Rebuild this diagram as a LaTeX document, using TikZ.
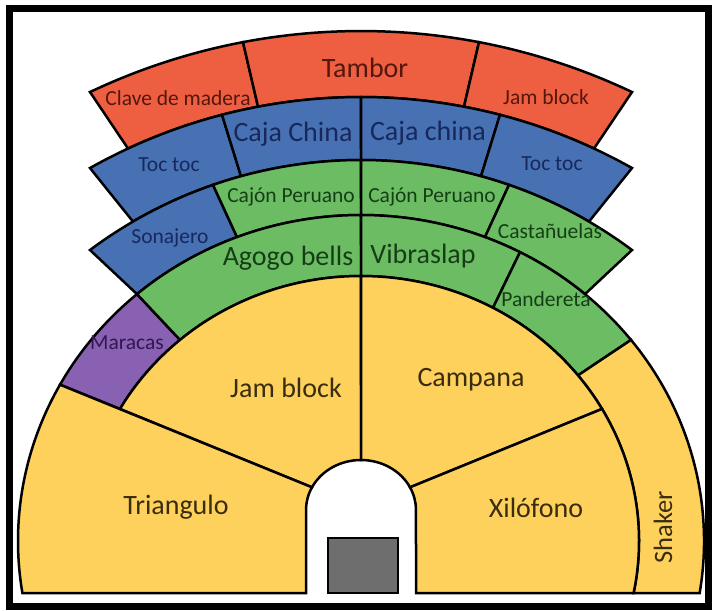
\documentclass[tikz,border=0pt]{standalone}
\usepackage{fontspec}
\setmainfont{Carlito}
\usepackage{tikz}

\definecolor{redseat}{RGB}{238,95,65}
\definecolor{blueseat}{RGB}{72,113,180}
\definecolor{greenseat}{RGB}{108,188,100}
\definecolor{yellowseat}{RGB}{254,209,92}
\definecolor{purpleseat}{RGB}{137,97,178}
\definecolor{stagegray}{RGB}{110,110,110}
\definecolor{redtxt}{RGB}{85,22,12}
\definecolor{bluetxt}{RGB}{22,40,92}
\definecolor{greentxt}{RGB}{22,62,22}
\definecolor{yellowtxt}{RGB}{58,44,14}
\definecolor{purpletxt}{RGB}{50,22,82}

% arcs of the tiers: name, centre y, x radius, y radius (centre x is 361)
\newcommand{\arcdef}[4]{%
  \expandafter\def\csname cy#1\endcsname{#2}%
  \expandafter\def\csname ra#1\endcsname{#3}%
  \expandafter\def\csname rb#1\endcsname{#4}}

% one seat block: style, outer arc, x from, x to, inner arc, x from, x to
\newcommand{\seat}[7]{%
  \edef\sOc{\csname cy#2\endcsname}\edef\sOa{\csname ra#2\endcsname}\edef\sOb{\csname rb#2\endcsname}%
  \edef\sIc{\csname cy#5\endcsname}\edef\sIa{\csname ra#5\endcsname}\edef\sIb{\csname rb#5\endcsname}%
  \pgfmathsetmacro{\sAs}{-acos((#3-361)/\sOa)}%
  \pgfmathsetmacro{\sAe}{-acos((#4-361)/\sOa)}%
  \pgfmathsetmacro{\sBs}{-acos((#6-361)/\sIa)}%
  \pgfmathsetmacro{\sBe}{-acos((#7-361)/\sIa)}%
  \pgfmathsetmacro{\sYa}{\sOc+\sOb*sin(\sAs)}%
  \pgfmathsetmacro{\sYb}{\sIc+\sIb*sin(\sBs)}%
  \filldraw[#1] (#3,\sYa) arc[start angle=\sAs, end angle=\sAe, x radius=\sOa, y radius=\sOb]
    -- (#6,\sYb) arc[start angle=\sBs, end angle=\sBe, x radius=\sIa, y radius=\sIb] -- cycle;}

\arcdef{R0}{663.5}{632.5}{632.5}
\arcdef{R1}{649.7}{552.7}{552.7}
\arcdef{R2}{613}{453}{453}
\arcdef{R3}{541}{343}{326}
\arcdef{R4}{541}{278}{265}
\arcdef{Ar}{510}{55}{50}

\begin{document}
\begin{tikzpicture}[
        x=1pt, y=-1pt,
        block/.style={draw=black, line width=2.5},
        red/.style={block, fill=redseat},
        blue/.style={block, fill=blueseat},
        green/.style={block, fill=greenseat},
        yellow/.style={block, fill=yellowseat},
        purple/.style={block, fill=purpleseat},
        small/.style={font=\fontsize{21.5}{24}\selectfont, inner sep=0pt},
        big/.style={font=\fontsize{28}{32}\selectfont, inner sep=0pt}
        ]
    \useasboundingbox (0,0) rectangle (713,611);

    % --- top tier (red) ---
        \seat{red}{R0}{90}{243}{R1}{258}{128}
        \seat{red}{R0}{243}{479}{R1}{464}{258}
        \seat{red}{R0}{479}{632}{R1}{594}{464}

    % --- second tier (blue) ---
        \seat{blue}{R1}{90}{222}{R2}{241}{133}
        \seat{blue}{R1}{222}{361}{R2}{361}{241}
        \seat{blue}{R1}{361}{500}{R2}{481}{361}
        \seat{blue}{R1}{500}{632}{R2}{589}{481}

    % --- third tier ---
        \seat{blue}{R2}{90}{213}{R3}{237}{137}
        \seat{green}{R2}{213}{361}{R3}{361}{237}
        \seat{green}{R2}{361}{509}{R3}{485}{361}
        \seat{green}{R2}{509}{632}{R3}{585}{485}

    % --- outer ring ---
        \seat{purple}{R3}{60}{137}{R4}{180}{120}
        \seat{green}{R3}{137}{361}{R4}{361}{180}
        \seat{green}{R3}{361}{520}{R4}{493}{361}
        \seat{green}{R3}{520}{631}{R4}{578}{493}
        \filldraw[yellow] (631,339.9) arc[start angle=-38.09, end angle=9.18, x radius=343, y radius=326]
            -- (633.6,593) arc[start angle=11.32, end angle=-38.69, x radius=278, y radius=265] -- cycle;

    % --- floor round the stage ---
        \seat{yellow}{R4}{120}{361}{Ar}{361}{312}
        \seat{yellow}{R4}{361}{602}{Ar}{410}{361}
        \filldraw[yellow] (60,384.7) arc[start angle=-151.35, end angle=-189.18, x radius=343, y radius=326]
            -- (306,593) -- (306,510) arc[start angle=-180, end angle=-153, x radius=55, y radius=50] -- cycle;
        \filldraw[yellow] (410,487.3) arc[start angle=-27, end angle=0, x radius=55, y radius=50]
            -- (416,593) -- (633.6,593) arc[start angle=11.32, end angle=-29.89, x radius=278, y radius=265] -- cycle;

    % --- stage and frame ---
        \filldraw[fill=stagegray, draw=black, line width=2.5] (328,538) rectangle (398,593);
        \draw[line width=7] (9,8.5) rectangle (708.5,606.5);

    % --- labels ---
        \node[small, text=redtxt] (clave) at (178,98) {Clave de madera};
        \node[big, text=redtxt] (tambor) at (365,68) {Tambor};
        \node[small, text=redtxt] (jamrojo) at (546,97) {Jam block};

        \node[small, text=bluetxt] (toc1) at (169,165) {Toc toc};
        \node[big, text=bluetxt] (caja1) at (293,134) {Caja China};
        \node[big, text=bluetxt] (caja2) at (428,133) {Caja china};
        \node[small, text=bluetxt] (toc2) at (552,164) {Toc toc};

        \node[small, text=bluetxt] (sonajero) at (170,238) {Sonajero};
        \node[small, text=greentxt] (cajon1) at (291,197) {Cajón Peruano};
        \node[small, text=greentxt] (cajon2) at (432,197) {Cajón Peruano};
        \node[small, text=greentxt] (castanuelas) at (550,231) {Castañuelas};

        \node[big, text=greentxt] (agogo) at (288,258) {Agogo bells};
        \node[big, text=greentxt] (vibraslap) at (423,256) {Vibraslap};
        \node[small, text=greentxt] (pandereta) at (546,299) {Pandereta};
        \node[small, text=purpletxt] (maracas) at (127,343) {Maracas};

        \node[big, text=yellowtxt] (jamblock) at (286,388) {Jam block};
        \node[big, text=yellowtxt] (campana) at (471,380) {Campana};
        \node[big, text=yellowtxt] (triangulo) at (176,507) {Triangulo};
        \node[big, text=yellowtxt] (xilofono) at (536,508) {Xilófono};
        \node[text=yellowtxt, font=\fontsize{26.5}{30}\selectfont, inner sep=0pt, rotate=90] (shaker) at (663,527) {Shaker};

    \end{tikzpicture}
\end{document}
